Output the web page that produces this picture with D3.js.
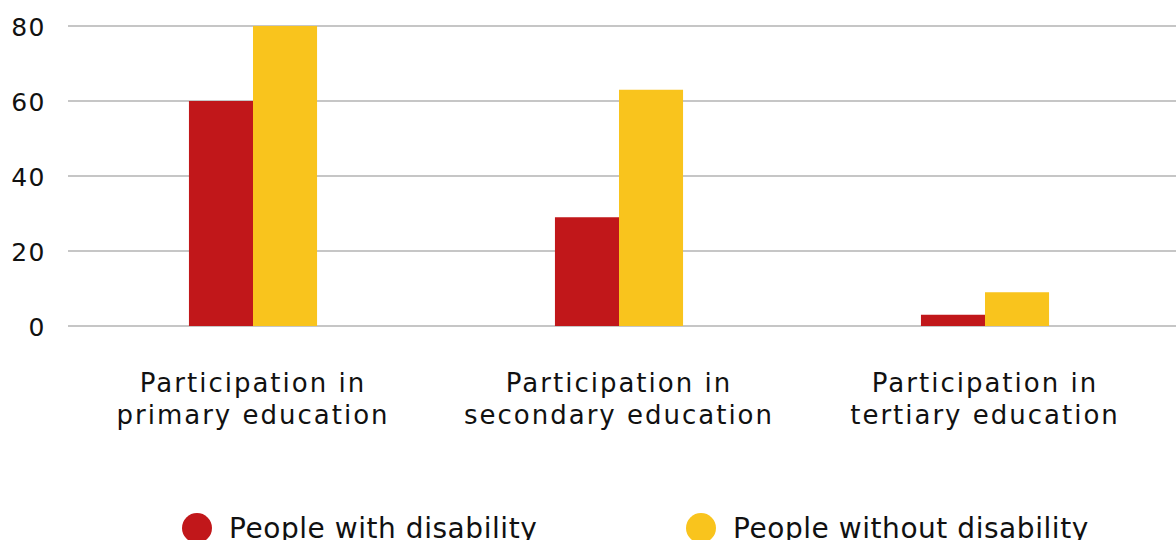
<!DOCTYPE html>
<html>
<head>
<meta charset="utf-8">
<script src="https://cdnjs.cloudflare.com/ajax/libs/d3/7.8.5/d3.min.js"></script>
<style>
  body { margin: 0; background: #fff; }
  .grid line { stroke: #b3b3b3; stroke-width: 1.3; }
  .ylab { font-family: 'DejaVu Sans', sans-serif; font-size: 25px; fill: #111; letter-spacing: 1.5px; }
  .xlab { font-family: 'DejaVu Sans', sans-serif; font-size: 26px; fill: #111; letter-spacing: 2px; }
  .leg { font-family: 'DejaVu Sans', sans-serif; font-size: 28px; fill: #111; letter-spacing: 0.55px; }
</style>
</head>
<body>
<svg id="chart" width="1176" height="540"></svg>
<script>
var categories = [
    ["Participation in", "primary education"],
    ["Participation in", "secondary education"],
    ["Participation in", "tertiary education"]
];
var series = ["People with disability", "People without disability"];
var withDisability = [60, 29, 3];
var withoutDisability = [80, 63, 9];
var yTicks = [0, 20, 40, 60, 80];
var colors = ["#c1171a", "#f9c41d"];

var svg = d3.select("#chart"),
    width = +svg.attr("width"),
    height = +svg.attr("height");

var y = d3.scaleLinear().domain([0, 80]).range([326, 26]);

var x = d3.scaleBand()
    .domain(d3.range(categories.length))
    .range([70, 1168])
    .paddingInner(0.65)
    .paddingOuter(0.325);

var xs = d3.scaleBand().domain([0, 1]).range([0, x.bandwidth()]);

// gridlines
svg.append("g")
    .attr("class", "grid")
    .selectAll("line")
    .data(yTicks)
    .enter().append("line")
    .attr("x1", 68)
    .attr("x2", width)
    .attr("y1", function(d) { return y(d); })
    .attr("y2", function(d) { return y(d); });

svg.append("g")
    .selectAll("text")
    .data(yTicks)
    .enter().append("text")
    .attr("class", "ylab")
    .attr("x", 46)
    .attr("y", function(d) { return y(d) + 10; })
    .attr("text-anchor", "end")
    .text(function(d) { return d; });

var data = categories.map(function(c, i) {
    return [withDisability[i], withoutDisability[i]];
});

var groups = svg.append("g")
    .selectAll("g")
    .data(data)
    .enter().append("g")
    .attr("transform", function(d, i) { return "translate(" + x(i) + ",0)"; });

groups.selectAll("rect")
    .data(function(d) { return d; })
    .enter().append("rect")
    .attr("x", function(d, j) { return xs(j); })
    .attr("width", xs.bandwidth())
    .attr("y", function(d) { return y(d); })
    .attr("height", function(d) { return y(0) - y(d); })
    .attr("fill", function(d, j) { return colors[j]; });

// category labels
var lab = svg.append("g")
    .selectAll("text")
    .data(categories)
    .enter().append("text")
    .attr("class", "xlab")
    .attr("text-anchor", "middle")
    .attr("x", function(d, i) { return x(i) + x.bandwidth() / 2; })
    .attr("y", 392);

lab.selectAll("tspan")
    .data(function(d) { return d; })
    .enter().append("tspan")
    .attr("x", function() { return d3.select(this.parentNode).attr("x"); })
    .attr("dy", function(d, k) { return k === 0 ? 0 : 32; })
    .text(function(d) { return d; });

// legend
var legX = [197, 701];
var leg = svg.append("g")
    .selectAll("g")
    .data(series)
    .enter().append("g")
    .attr("transform", function(d, i) { return "translate(" + legX[i] + ",528)"; });

leg.append("circle")
    .attr("r", 15)
    .attr("fill", function(d, i) { return colors[i]; });

leg.append("text")
    .attr("class", "leg")
    .attr("x", 32)
    .attr("y", 10)
    .text(function(d) { return d; });
</script>
</body>
</html>
